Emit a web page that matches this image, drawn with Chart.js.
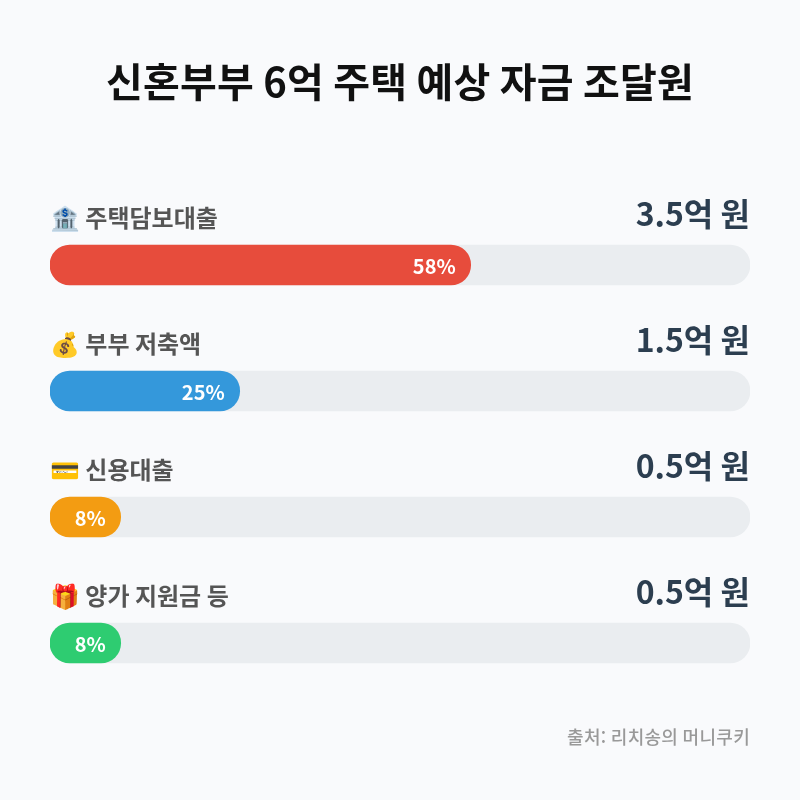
<!DOCTYPE html>
<html lang="ko">
<head>
<meta charset="utf-8">
<title>신혼부부 6억 주택 예상 자금 조달원</title>
<script src="https://cdn.jsdelivr.net/npm/chart.js@4"></script>
<style>
  html, body { margin: 0; padding: 0; background: #f9fafc; }
  canvas { display: block; }
</style>
</head>
<body>
<canvas id="grafico" width="800" height="800"></canvas>
<script>
const titulo = "신혼부부 6억 주택 예상 자금 조달원";
const fuente = "출처: 리치송의 머니쿠키";
const categorias = ["🏦 주택담보대출", "💰 부부 저축액", "💳 신용대출", "🎁 양가 지원금 등"];
const montos = ["3.5억 원", "1.5억 원", "0.5억 원", "0.5억 원"];
const porcentajes = ["58%", "25%", "8%", "8%"];
// filled length of each bar (scale 0-100)
const relleno = [60.1, 27.1, 10.1, 10.1];
const fondo = [100, 100, 100, 100];
const colores = ["#e74c3c", "#3498db", "#f39c12", "#2ecc71"];

const FAMILIA = '"Noto Sans CJK KR", "Noto Color Emoji", sans-serif';

// Textos: título, etiquetas, montos y fuente
const textos = {
  id: "textos",
  afterDatasetsDraw(chart) {
    const { ctx } = chart;
    const barras = chart.getDatasetMeta(1).data;
    ctx.save();
    ctx.textBaseline = "alphabetic";

    ctx.textAlign = "center";
    ctx.fillStyle = "#111111";
    ctx.font = "700 40px " + FAMILIA;
    ctx.letterSpacing = "0.2px";
    ctx.fillText(titulo, 400, 97);
    ctx.letterSpacing = "0px";

    barras.forEach((barra, i) => {
      ctx.textAlign = "left";
      ctx.fillStyle = "#555555";
      ctx.font = "700 24px " + FAMILIA;
      ctx.fillText(categorias[i], 50, barra.y - 38);

      ctx.textAlign = "right";
      ctx.fillStyle = "#2c3e50";
      ctx.font = "700 32px " + FAMILIA;
      ctx.fillText(montos[i], 750, barra.y - 39);

      ctx.fillStyle = "#ffffff";
      ctx.font = "700 20px " + FAMILIA;
      ctx.fillText(porcentajes[i], barra.x - 15, barra.y + 9);
    });

    ctx.textAlign = "right";
    ctx.fillStyle = "#999999";
    ctx.font = "500 18px " + FAMILIA;
    ctx.letterSpacing = "0.3px";
    ctx.fillText(fuente, 750, 744);
    ctx.restore();
  }
};

new Chart(document.getElementById("grafico"), {
  type: "bar",
  data: {
    labels: categorias,
    datasets: [
      { data: fondo, backgroundColor: "#eaedf0", order: 2 },
      { data: relleno, backgroundColor: colores, order: 1 }
    ]
  },
  options: {
    indexAxis: "y",
    responsive: false,
    animation: false,
    devicePixelRatio: 1,
    layout: { padding: { left: 50, right: 50, top: 202, bottom: 94 } },
    datasets: {
      bar: { grouped: false, barThickness: 40, borderRadius: 20, borderSkipped: false }
    },
    plugins: { legend: { display: false }, tooltip: { enabled: false } },
    scales: {
      x: { display: false, min: 0, max: 100 },
      y: { display: false }
    }
  },
  plugins: [textos]
});
</script>
</body>
</html>
